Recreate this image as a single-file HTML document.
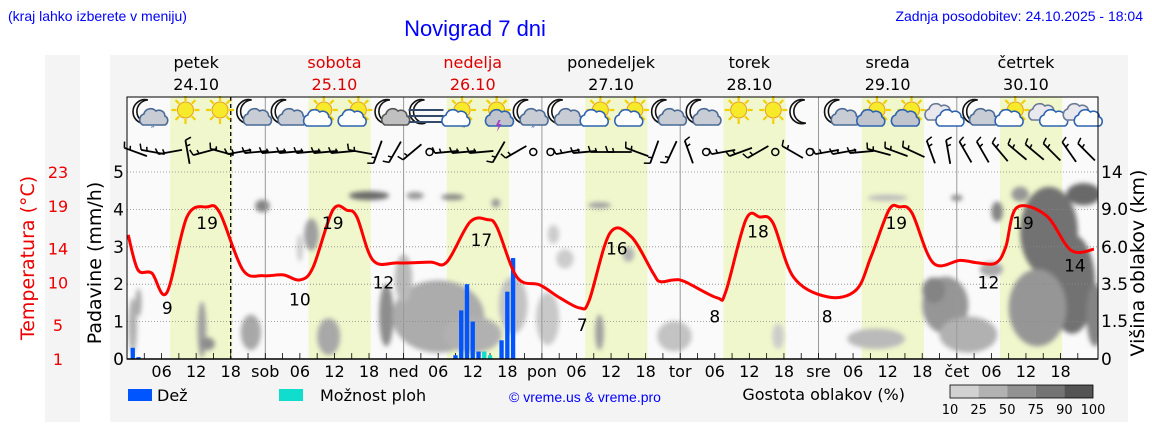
<!DOCTYPE html>
<html><head><meta charset="utf-8"><style>
html,body{margin:0;padding:0;background:#fff;}
svg{display:block;}
text{font-family:"DejaVu Sans","Liberation Sans",sans-serif;}
.hdr{font-family:"Liberation Sans",sans-serif;fill:#0000ff;}
</style></head><body>
<svg id="chart" width="1152" height="443" viewBox="0 0 1152 443" xmlns="http://www.w3.org/2000/svg">
<defs>
<filter id="blur" x="-50%" y="-50%" width="200%" height="200%"><feGaussianBlur stdDeviation="2.5"/></filter>
<clipPath id="plotclip"><rect x="127" y="165" width="971" height="194"/></clipPath>
</defs>
<text class="hdr" x="8" y="21" font-size="14">(kraj lahko izberete v meniju)</text>
<text class="hdr" x="475" y="36" font-size="22" text-anchor="middle">Novigrad 7 dni</text>
<text class="hdr" x="1143" y="21" font-size="14" text-anchor="end">Zadnja posodobitev: 24.10.2025 - 18:04</text>
<rect x="45" y="55" width="35" height="367" fill="#f4f4f4"/>
<rect x="110" y="55" width="1018" height="367" fill="#f4f4f4"/>
<rect x="127" y="97" width="971" height="262" fill="#fafafa"/>
<g id="bands"></g>
<g id="clouds" clip-path="url(#plotclip)" filter="url(#blur)"></g>
<g id="grid"></g>
<g id="bars"></g>
<g id="templine"></g>
<g id="icons"></g>
<g id="wind"></g>
<g id="axes"></g>
<rect x="127" y="97" width="971" height="262" fill="none" stroke="#000" stroke-width="1"/>
<line x1="127" y1="359" x2="1098" y2="359" stroke="#000" stroke-width="1.5"/>
<text x="0" y="0" font-size="19" fill="#e00" text-anchor="middle" transform="translate(34,258) rotate(-90)">Temperatura (°C)</text>
<text x="0" y="0" font-size="19" fill="#000" text-anchor="middle" transform="translate(101,263) rotate(-90)">Padavine (mm/h)</text>
<text x="0" y="0" font-size="19" fill="#000" text-anchor="middle" transform="translate(1144,263) rotate(-90)">Višina oblakov (km)</text>
<g>
<rect x="128" y="389" width="24" height="12" fill="#0055ff"/>
<text x="157" y="401" font-size="16">Dež</text>
<rect x="279" y="389" width="24" height="12" fill="#11ddcc"/>
<text x="320" y="401" font-size="16">Možnost ploh</text>
<text class="hdr" x="585" y="402" font-size="14" text-anchor="middle">© vreme.us &amp; vreme.pro</text>
<text x="905" y="400" font-size="16" text-anchor="end">Gostota oblakov (%)</text>
<g id="cloudlegend"></g>
</g>
</svg>
<script>
const NS='http://www.w3.org/2000/svg';
const svg=document.getElementById('chart');
const X0=127, DAYW=138.3, NDAYS=7;
const dayNames=['petek','sobota','nedelja','ponedeljek','torek','sreda','četrtek'];
const dayDates=['24.10','25.10','26.10','27.10','28.10','29.10','30.10'];
const dayColors=['#000','#d00','#d00','#000','#000','#000','#000'];
const dayShort=['','sob','ned','pon','tor','sre','čet'];
const tempTicks=[23,19,14,10,5,1];
const precipTicks=[0,1,2,3,4,5];
const cloudTicks=['0','1.5','3.5','6.0','9.0','14'];
const cloudTickKm=[0,1.5,3.5,6,9,14];
// temperature series
const tempHours=[0.2,1.9,4.3,6.9,10.4,13.9,16.1,20.1,23.6,27.1,30.0,32.3,35.7,38.2,39.9,42.7,46.9,52.6,55.5,59.5,62.5,64.2,67.7,71.7,75.1,78.6,80.2,83.8,87.5,91.3,92.5,94.9,96.8,102.4,103.9,107.4,109.8,112.1,115.7,121.6,126.5,129.1,132.2,134.0,136.2,139.9,144.6,147.7,150.8,152.5,154.4,159.5,163.8,167.8];
const tempValues=[15.6,11.5,11.1,8.8,17.7,18.9,18.2,11.5,10.8,10.9,10.3,11.8,18.5,18.5,17.7,12.6,12.3,12.4,12.4,17.1,17.4,16.5,10.6,9.7,8.2,7.0,7.9,15.8,15.4,11.1,10.1,10.3,10.1,8.2,8.9,17.4,17.7,17.0,10.6,8.3,9.1,13.0,18.5,18.9,18.2,12.3,12.6,12.3,12.3,14.2,18.8,17.9,13.8,13.9];
const labelHours=[7,13.9,30,35.7,44.5,61.5,85,79,109.5,102,121.5,133.5,149.5,155.5,164.5];
const labelValues=[9,19,10,19,12,17,16,7,18,8,8,19,12,19,14];
// precipitation
const rainHours=[1,2,57,58,59,60,61,65,66,67];
const rainValues=[0.3,0.05,0.1,1.3,2.0,1.0,0.2,0.5,1.8,2.7];
const showerHours=[62,63];
const showerValues=[0.2,0.1];
// cloud blobs: hour, km, width(h), height(km), density
const cloudH=[1,2,13,14,23.5,21.5,32,35,30,42,50,56.5,64,45,54,60,48,67,73,74,82,82,76,87,95,113,132,144,130,142,140,146,151,150,160,164,158,166,155,168];
const cloudKm=[1.5,2.5,1.3,0.6,9.5,1.1,7,0.9,6,10.8,10.8,10.6,9.8,2,2,1,4,2.5,1.8,7,9.5,1.1,5.2,5.5,0.9,0.9,10.5,10.5,0.8,2.5,3.2,1,9,4.5,8,4,2.5,11,11,2];
const cloudW=[1.5,1,1.5,2.5,2.5,3.5,2.5,4,0.5,7,3,4,1.5,2.5,16,10,3,5,4,2,4,1.5,3,2,6,2,7,2,10,8,4,10,2,4,10,8,10,6,3,3];
const cloudHk=[2.5,1.5,2.5,0.5,1.5,1.5,2.5,1.5,2,1.2,1,0.8,1.2,3,3.5,1.5,3,3,2.5,1.5,0.6,1.5,1.3,1,1.2,1,0.5,0.7,0.8,3,1.5,1.5,2,1,8,6,4,3,2,3];
const cloudD=[0.35,0.4,0.45,0.55,0.6,0.4,0.45,0.4,0.2,0.75,0.5,0.6,0.5,0.55,0.38,0.35,0.3,0.25,0.22,0.2,0.45,0.45,0.2,0.35,0.25,0.2,0.3,0.6,0.3,0.5,0.6,0.35,0.6,0.4,0.7,0.7,0.5,0.75,0.5,0.6];
// weather icons every 6h
const iconTypes=['moonrain','sun','sun','mooncloud','mooncloud','suncloud','suncloud','mooncloudg','fog','sunrain','sunthunder','moonrain','mooncloud','suncloud','suncloud','mooncloud','mooncloud','sun','sun','moon','mooncloud','suncloudg','suncloudg','clouds','mooncloud','suncloud','clouds','clouds'];
// wind direction per 3h (999 = calm)
const windDir=[20,10,-10,80,-15,15,-10,-5, -5,-5,-5,-5,-5,10,-70,-60, -40,999,-5,-5,-5,-60,-30,999, 999,-10,-5,0,0,20,-70,-65, 70,999,-10,-20,-30,999,30,999, -10,-10,-5,15,20,25,70,80, 60,60,50,40,40,45,55,45];

function xH(h){return X0+h*DAYW/24;}
function yP(v){return 359-v*37.4;}
function yT(t){return 359-(t-1)*187/22;}
const kmPts=[0,1.5,3.5,6,9,14], kmY=[359,321,284,247,209,172];
function yK(k){for(let i=1;i<kmPts.length;i++){if(k<=kmPts[i]){const f=(k-kmPts[i-1])/(kmPts[i]-kmPts[i-1]);return kmY[i-1]+f*(kmY[i]-kmY[i-1]);}}return 172-(k-14)*7.4;}
function el(tag,attrs,parent){const e=document.createElementNS(NS,tag);for(const k in attrs)e.setAttribute(k,attrs[k]);(parent||svg).appendChild(e);return e;}

const bands=document.getElementById('bands');
for(let d=0;d<NDAYS;d++){
  const b=el('rect',{x:xH(d*24+7.5),y:97,width:xH(18.3)-xH(7.5),height:262,fill:'#f0f7cc'},bands);
  
  
}
const cg=document.getElementById('clouds');
for(let i=0;i<cloudH.length;i++){
  const g=Math.round(240-180*cloudD[i]);
  const yt=yK(cloudKm[i]+cloudHk[i]/2), yb=yK(Math.max(0,cloudKm[i]-cloudHk[i]/2));
  const c=el('ellipse',{cx:xH(cloudH[i]),cy:(yt+yb)/2,rx:Math.max(3,(xH(cloudW[i])-X0)/2),ry:Math.max(3,(yb-yt)/2),fill:`rgb(${g},${g},${g})`},cg);
  
  
}
const grid=document.getElementById('grid');
for(let v=1;v<=5;v++){
  const l=el('line',{x1:X0,x2:1098,y1:yP(v),y2:yP(v),stroke:'#888','stroke-dasharray':'1,2','stroke-width':0.8},grid);
  
  
}
for(let d=1;d<NDAYS;d++){
  const l=el('line',{x1:xH(d*24),x2:xH(d*24),y1:97,y2:359,stroke:'#999','stroke-width':1},grid);
  
  
}
const nowL=el('line',{x1:xH(18),x2:xH(18),y1:97,y2:359,stroke:'#000','stroke-dasharray':'4,3','stroke-width':1.3},grid);


for(let h=3;h<NDAYS*24;h+=3){
  const t=el('line',{x1:xH(h),x2:xH(h),y1:353,y2:359,stroke:'#000','stroke-width':0.8},grid);
  
  
}
const bars=document.getElementById('bars');
const bw=DAYW/24*0.75;
rainHours.forEach((h,i)=>{
  const r=el('rect',{x:xH(h)-bw/2,y:yP(rainValues[i]),width:bw,height:359-yP(rainValues[i]),fill:'#0055ff'},bars);
  
  
});
showerHours.forEach((h,i)=>{
  const r=el('rect',{x:xH(h)-bw/2,y:yP(showerValues[i]),width:bw,height:359-yP(showerValues[i]),fill:'#11ddcc'},bars);
  
  
});
// smooth temperature line (Catmull-Rom)
const tl=document.getElementById('templine');
const pts=tempHours.map((h,i)=>[xH(h),yT(tempValues[i])]);
let dstr='M'+pts[0][0].toFixed(1)+','+pts[0][1].toFixed(1);
for(let i=0;i<pts.length-1;i++){
  const p0=pts[Math.max(0,i-1)],p1=pts[i],p2=pts[i+1],p3=pts[Math.min(pts.length-1,i+2)];
  const c1=[p1[0]+(p2[0]-p0[0])/6,p1[1]+(p2[1]-p0[1])/6];
  const c2=[p2[0]-(p3[0]-p1[0])/6,p2[1]-(p3[1]-p1[1])/6];
  dstr+=` C${c1[0].toFixed(1)},${c1[1].toFixed(1)} ${c2[0].toFixed(1)},${c2[1].toFixed(1)} ${p2[0].toFixed(1)},${p2[1].toFixed(1)}`;
}
const tp=el('path',{d:dstr,fill:'none',stroke:'#ff0000','stroke-width':3,'stroke-linejoin':'round'},tl);


labelHours.forEach((h,i)=>{
  const t=el('text',{x:xH(h),y:yT(labelValues[i])+23,'font-size':17,'text-anchor':'middle',fill:'#000'},tl);
  t.textContent=labelValues[i];
  
  
});
const ax=document.getElementById('axes');
for(let d=0;d<NDAYS;d++){
  const cx=xH(d*24+12);
  const a=el('text',{x:cx,y:68,'font-size':16,'text-anchor':'middle',fill:dayColors[d]},ax);
  a.textContent=dayNames[d];
  
  
  const b=el('text',{x:cx,y:90,'font-size':16,'text-anchor':'middle',fill:dayColors[d]},ax);
  b.textContent=dayDates[d];
  
  
  [6,12,18].forEach(hh=>{
    const t=el('text',{x:xH(d*24+hh),y:377,'font-size':16,'text-anchor':'middle'},ax);
    t.textContent=(hh<10?'0':'')+hh;
    
    
  });
  if(d>0){
    const t=el('text',{x:xH(d*24),y:377,'font-size':16,'text-anchor':'middle'},ax);
    t.textContent=dayShort[d];
    
    
  }
}
tempTicks.forEach(v=>{
  const t=el('text',{x:58,y:yT(v)+6,'font-size':16,'text-anchor':'middle',fill:'#e00'},ax);
  t.textContent=v;
  
  
});
precipTicks.forEach(v=>{
  const t=el('text',{x:124,y:yP(v)+6,'font-size':17,'text-anchor':'end'},ax);
  t.textContent=v;
  
  
});
cloudTicks.forEach((s,i)=>{
  const t=el('text',{x:1101,y:yK(cloudTickKm[i])+6,'font-size':17},ax);
  t.textContent=s;
  
  
});
const wg=document.getElementById('wind');
windDir.forEach((a,i)=>{
  const cx=xH(1.5+i*3), cy=152;
  if(a===999){
    const c=el('circle',{cx:cx,cy:cy,r:3.5,fill:'none',stroke:'#000','stroke-width':1.5},wg);
    
    
    return;
  }
  const g=el('g',{transform:`translate(${cx},${cy}) rotate(${a})`},wg);
  
  
  el('line',{x1:-12,y1:0,x2:12,y2:0,stroke:'#000','stroke-width':1.8},g);
  el('line',{x1:-12,y1:0,x2:-14,y2:-6,stroke:'#000','stroke-width':1.5},g);
  el('line',{x1:-6,y1:0,x2:-7,y2:-4,stroke:'#000','stroke-width':1.5},g);
});
const ig=document.getElementById('icons');
function sun(g,x,y,r){for(let k=0;k<8;k++){const an=k*Math.PI/4;el('line',{x1:x+Math.cos(an)*(r+1),y1:y+Math.sin(an)*(r+1),x2:x+Math.cos(an)*(r+6),y2:y+Math.sin(an)*(r+6),stroke:'#f2d000','stroke-width':2.2},g);}el('circle',{cx:x,cy:y,r:r,fill:'#f7ea2a',stroke:'#e8a020','stroke-width':1},g);}
function moon(g,x,y){el('path',{d:`M${x+4},${y-12} A12,12 0 1,0 ${x+5},${y+11} A9,9 0 1,1 ${x+4},${y-12} Z`,fill:'#fff',stroke:'#111','stroke-width':1.6},g);}
function cloud(g,x,y,fill,stroke){el('path',{d:`M${x-12},${y+7} a6,6 0 0,1 1,-11 a7,7 0 0,1 12,-3 a6,6 0 0,1 9,5 a5,5 0 0,1 0,9 Z`,fill:fill,stroke:stroke,'stroke-width':1.6},g);}
iconTypes.forEach((t,i)=>{
  const x=xH(3.8+i*6), y=112;
  const g=el('g',{},ig);
  
  
  if(t.startsWith('moon')||t==='fog'){moon(g,x-5,y);}
  if(t.startsWith('sun')){sun(g,x+2,y-2,8);}
  if(t==='mooncloud'||t==='moonrain')cloud(g,x+6,y+6,'#c8ccd4','#4a6a94');
  if(t==='mooncloudg')cloud(g,x+6,y+6,'#c0c0c0','#555');
  if(t==='suncloud'||t==='sunrain')cloud(g,x-3,y+7,'#fff','#2d63b0');
  if(t==='suncloudg')cloud(g,x-3,y+7,'#c0c4cc','#2d63b0');
  if(t==='sunthunder'){cloud(g,x+6,y+7,'#c0c4cc','#2d63b0');el('path',{d:`M${x+4},${y+8} l-3,6 h3 l-2,6 l5,-8 h-3 l2,-4z`,fill:'#a040c0'},g);}
  if(t==='moonrain'||t==='sunrain')el('text',{x:x+2,y:y+21,'font-size':10,fill:'#2d63b0'},g).textContent='\u2033';
  if(t==='fog'){for(let k=0;k<3;k++)el('line',{x1:x-17,x2:x+18,y1:y-2+k*6,y2:y-2+k*6,stroke:'#334a6a','stroke-width':2},g);}
  if(t==='clouds'){cloud(g,x-4,y+1,'#e8e8ee','#6a7a94');cloud(g,x+7,y+7,'#fff','#2d63b0');}
});
const cl=document.getElementById('cloudlegend');
const clLabels=['10','25','50','75','90','100'];
const clColors=['#d2d2d2','#b2b2b2','#929292','#747474','#545454'];
clColors.forEach((c,i)=>{
  const r=el('rect',{x:950+i*28.6,y:385,width:28.6,height:13,fill:c},cl);
  
  
});
el('rect',{x:950,y:385,width:143,height:13,fill:'none',stroke:'#000','stroke-width':0.8},cl);
clLabels.forEach((s,i)=>{
  const t=el('text',{x:950+i*28.6,y:414,'font-size':13,'text-anchor':'middle'},cl);
  t.textContent=s;
  
  
});
</script>
</body></html>
